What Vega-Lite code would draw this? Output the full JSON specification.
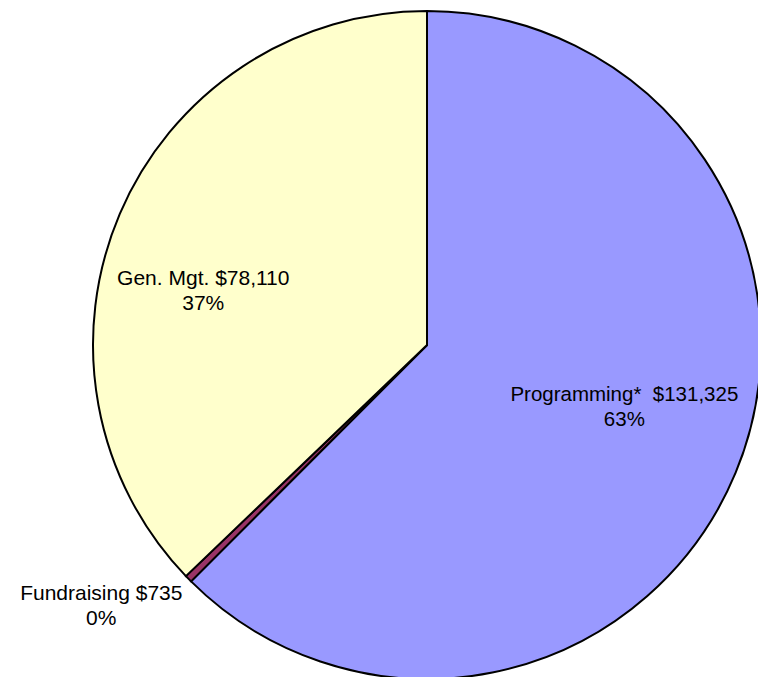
{
  "$schema": "https://vega.github.io/schema/vega-lite/v6.json",
  "width": 662,
  "height": 664,
  "autosize": "none",
  "padding": {"left": 96, "top": 13, "right": 0, "bottom": 0},
  "background": "white",
  "view": {"stroke": null},
  "data": {"values": [
    {"category": "Programming", "idx": 1, "amount": 131325, "label": "Programming*\u00a0 $131,325\n63%"},
    {"category": "Fundraising", "idx": 2, "amount": 735, "label": "Fundraising $735\n0%"},
    {"category": "Gen. Mgt.", "idx": 3, "amount": 78110, "label": "Gen. Mgt. $78,110\n37%"}
  ]},
  "encoding": {
    "theta": {"field": "amount", "type": "quantitative", "stack": true},
    "order": {"field": "idx", "type": "quantitative"}
  },
  "layer": [
    {
      "mark": {"type": "arc", "outerRadius": 334, "stroke": "black", "strokeWidth": 2},
      "encoding": {
        "color": {"field": "category", "type": "nominal",
          "scale": {"domain": ["Programming", "Fundraising", "Gen. Mgt."], "range": ["#9999FF", "#993366", "#FFFFCC"]},
          "legend": null}
      }
    },
    {
      "mark": {"type": "text", "radius": 207, "thetaOffset": -0.0855, "dy": -12.5, "font": "Liberation Sans", "fontSize": 20.5, "lineBreak": "\n", "lineHeight": 25, "align": "center", "baseline": "middle", "fill": "black"},
      "encoding": {
        "text": {"condition": {"test": "datum.category === 'Programming'", "field": "label"}, "value": ""}
      }
    },
    {
      "mark": {"type": "text", "radius": 230, "thetaOffset": -0.169, "dy": -12.5, "font": "Liberation Sans", "fontSize": 21, "lineBreak": "\n", "lineHeight": 25, "align": "center", "baseline": "middle", "fill": "black"},
      "encoding": {
        "text": {"condition": {"test": "datum.category === 'Gen. Mgt.'", "field": "label"}, "value": ""}
      }
    },
    {
      "mark": {"type": "text", "radius": 418, "thetaOffset": 0.098, "dy": -12.5, "font": "Liberation Sans", "fontSize": 21, "lineBreak": "\n", "lineHeight": 25, "align": "center", "baseline": "middle", "fill": "black"},
      "encoding": {
        "text": {"condition": {"test": "datum.category === 'Fundraising'", "field": "label"}, "value": ""}
      }
    }
  ]
}
